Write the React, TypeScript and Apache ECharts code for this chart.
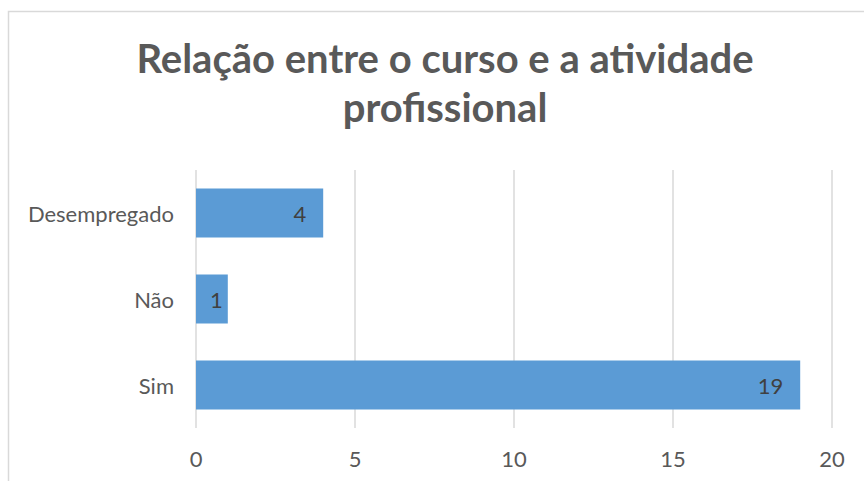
import React, { useEffect, useRef } from "react";
import * as echarts from "echarts";

const categories = ["Sim", "Não", "Desempregado"];
const values = [19, 1, 4];
const xTicks = [0, 5, 10, 15, 20];
const titleText = "Relação entre o curso e a atividade\nprofissional";

export default function App() {
  const ref = useRef<HTMLDivElement>(null);
  useEffect(() => {
    const chart = echarts.init(ref.current!, undefined, { renderer: "svg" });
    const labelDistance = (v: number) => (v < 2 ? 5 : 17);
    chart.setOption({
      animation: false,
      backgroundColor: "#ffffff",
      title: {
        text: titleText,
        left: 440,
        textAlign: "center",
        top: 28,
        textStyle: {
          fontFamily: "Lato",
          fontWeight: "bold",
          fontSize: 40,
          lineHeight: 49,
          color: "#595959",
        },
      },
      graphic: [
        {
          type: "rect",
          shape: { x: 8.5, y: 11.5, width: 900, height: 520 },
          style: { fill: "none", stroke: "#d9d9d9", lineWidth: 1.5 },
          silent: true,
        },
      ],
      grid: { left: 196, right: 32, top: 170, bottom: 53 },
      xAxis: {
        type: "value",
        min: xTicks[0],
        max: xTicks[xTicks.length - 1],
        interval: 5,
        axisLine: { show: false },
        axisTick: { show: false },
        splitLine: { lineStyle: { color: "#d9d9d9", width: 1.5 } },
        axisLabel: { fontFamily: "Lato", fontSize: 22, color: "#595959", margin: 19 },
      },
      yAxis: {
        type: "category",
        data: categories,
        axisLine: { show: false },
        axisTick: { show: false },
        axisLabel: { fontFamily: "Lato", fontSize: 22, color: "#595959", margin: 22 },
      },
      series: [
        {
          type: "bar",
          data: values.map((v) => ({ value: v, label: { distance: labelDistance(v) } })),
          barCategoryGap: "43%",
          itemStyle: { color: "#5b9bd5" },
          label: {
            show: true,
            position: "insideRight",
            distance: 17,
            fontFamily: "Lato",
            fontSize: 22,
            color: "#404040",
          },
        },
      ],
    });
    return () => chart.dispose();
  }, []);
  return (
    <div
      ref={ref}
      style={{ position: "fixed", left: 0, top: 0, width: 864, height: 481 }}
    />
  );
}
